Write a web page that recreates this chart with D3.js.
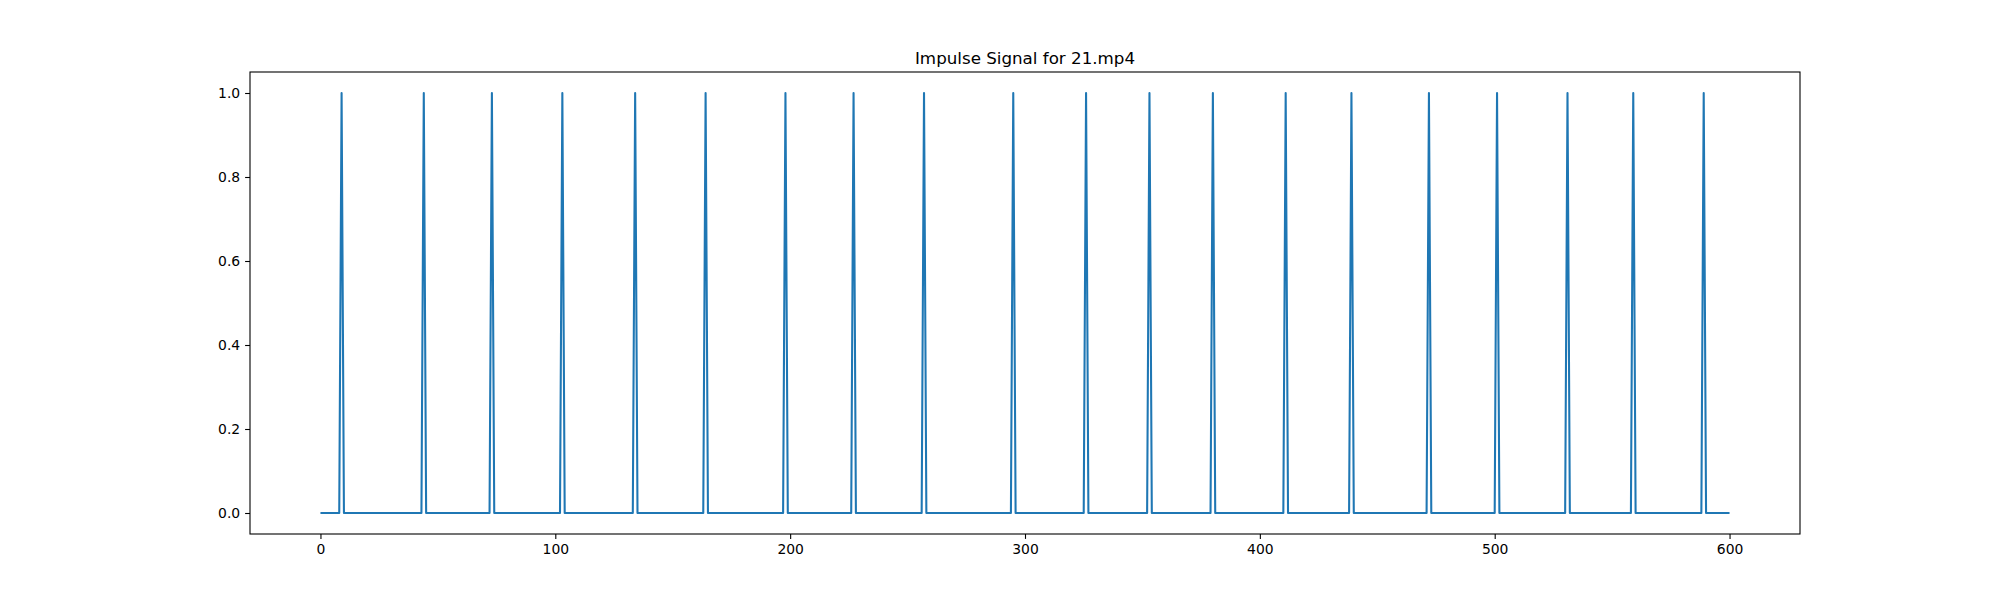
<!DOCTYPE html>
<html>
<head>
<meta charset="utf-8">
<script src="https://cdn.jsdelivr.net/npm/d3@7"></script>
<style>
  body { margin: 0; background: #fff; }
  svg { display: block; font-family: "DejaVu Sans", sans-serif; }
</style>
</head>
<body>
<div id="chart"></div>
<script>
// frame indices where an impulse fires
const peaks = [9, 44, 73, 103, 134, 164, 198, 227, 257, 295, 326, 353, 380, 411, 439, 472, 501, 531, 559, 589];
const numFrames = 601;
const xTicks = [0, 100, 200, 300, 400, 500, 600];
const yTicks = [0.0, 0.2, 0.4, 0.6, 0.8, 1.0];
const title = "Impulse Signal for 21.mp4";

const width = 2000, height = 600;
const margin = {left: 250, right: 200, top: 72, bottom: 66};

const signal = [];
for (let i = 0; i < numFrames; i++) {
  signal.push({x: i, y: peaks.indexOf(i) >= 0 ? 1 : 0});
}

const svg = d3.select("#chart").append("svg")
  .attr("width", width).attr("height", height);

const x = d3.scaleLinear().domain([-30, 630])
  .range([margin.left, width - margin.right]);
const y = d3.scaleLinear().domain([-0.05, 1.05])
  .range([height - margin.bottom, margin.top]);

const line = d3.line().x(d => x(d.x)).y(d => y(d.y));

svg.append("path").datum(signal)
  .attr("d", line)
  .attr("fill", "none")
  .attr("stroke", "#1f77b4")
  .attr("stroke-width", 2.08)
  .attr("stroke-linejoin", "round");

const xAxis = svg.append("g")
  .attr("transform", "translate(0," + (height - margin.bottom) + ")")
  .call(d3.axisBottom(x).tickValues(xTicks).tickSize(4.9).tickPadding(4.9).tickFormat(d3.format("d")));
const yAxis = svg.append("g")
  .attr("transform", "translate(" + margin.left + ",0)")
  .call(d3.axisLeft(y).tickValues(yTicks).tickSize(4.9).tickPadding(4.9).tickFormat(d3.format(".1f")));

[xAxis, yAxis].forEach(g => {
  g.select(".domain").remove();
  g.selectAll(".tick line").attr("stroke", "#000").attr("stroke-width", 1.1);
  g.selectAll(".tick text").attr("fill", "#000").style("font-size", "13.9px")
    .style("font-family", "DejaVu Sans");
});

// axes frame
svg.append("rect")
  .attr("x", margin.left).attr("y", margin.top)
  .attr("width", width - margin.left - margin.right)
  .attr("height", height - margin.top - margin.bottom)
  .attr("fill", "none").attr("stroke", "#000").attr("stroke-width", 1.1);

svg.append("text")
  .attr("x", (margin.left + width - margin.right) / 2)
  .attr("y", margin.top - 8.3)
  .attr("text-anchor", "middle")
  .style("font-size", "16.7px")
  .text(title);
</script>
</body>
</html>
